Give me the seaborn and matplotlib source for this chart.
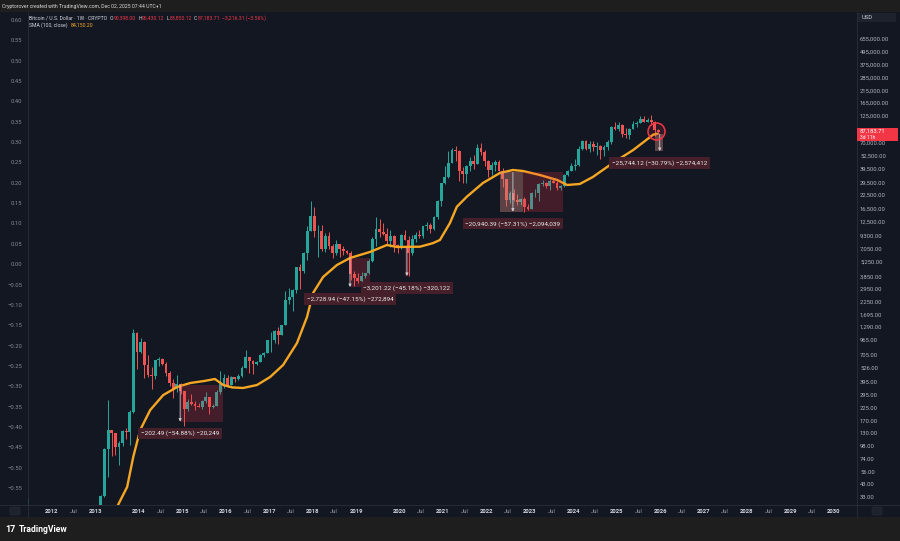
import matplotlib
matplotlib.use("Agg")
import matplotlib.pyplot as plt
from matplotlib.patches import Rectangle, FancyBboxPatch
from matplotlib.ticker import NullLocator
import numpy as np
import seaborn as sns

# ── Config ───────────────────────────────────────────────────────────────────
W, H = 900, 541
NAVY = "#131722"
STRIP = "#1e1e1e"
LINE = "#2a2e39"
UP, DOWN = "#26a69a", "#ef5350"
SMA_COLOR = "#f5a623"

# ── Data: BTC/USD monthly candles, Jun 2011 .. Dec 2025 ──────────────────────
first_month = (2011, 6)
first_open = 9.0
closes = [
    16.1, 13.4, 8.2, 5.1, 3.25, 3.0, 4.7,                                          # 2011
    5.5, 4.9, 4.9, 5.0, 5.2, 6.7, 9.3, 10.2, 12.4, 11.2, 12.6, 13.5,                # 2012
    20.4, 33.4, 93, 139, 129, 97, 106, 135, 133, 204, 1130, 755,                    # 2013
    930, 565, 457, 448, 627, 640, 585, 480, 387, 338, 378, 320,                     # 2014
    217, 254, 244, 236, 230, 263, 284, 229, 236, 314, 377, 430,                     # 2015
    369, 437, 416, 448, 531, 673, 624, 574, 609, 700, 742, 968,                     # 2016
    970, 1190, 1080, 1348, 2300, 2480, 2880, 4740, 4340, 6450, 10230, 14150,        # 2017
    10280, 10300, 6900, 9250, 7500, 6400, 7730, 7030, 6630, 6370, 4040, 3740,       # 2018
    3460, 3850, 4100, 5320, 8570, 10820, 10080, 9600, 8300, 9200, 7560, 7200,       # 2019
    9350, 8540, 6420, 8630, 9450, 9140, 11350, 11650, 10780, 13800, 19700, 28990,   # 2020
    33140, 45140, 58800, 57750, 37300, 35040, 41460, 47100, 43800, 61300, 57000, 46200,  # 2021
    38480, 43190, 45540, 37700, 31800, 19950, 23300, 20050, 19430, 20500, 17170, 16550,  # 2022
    23140, 23150, 28480, 29250, 27220, 30480, 29230, 25940, 26970, 34640, 37720, 42270,  # 2023
    42580, 61130, 71290, 60640, 67500, 62680, 64600, 58970, 63300, 70200, 96450, 93400,  # 2024
    102400, 84350, 82550, 94200, 104600, 107200, 115800, 108300, 114050, 109600, 90400, 87180,  # 2025
]
highs = [
    31.9, 17.5, 13.9, 8.9, 5.3, 3.5, 4.8,
    7.4, 6.3, 5.4, 5.2, 5.2, 6.8, 9.5, 15.4, 12.9, 12.9, 12.9, 13.9,
    20.7, 33.8, 95, 266, 140, 130, 110, 140, 145, 215, 1240, 1160,
    1020, 950, 710, 545, 630, 680, 660, 600, 495, 420, 455, 385,
    320, 270, 300, 261, 248, 268, 318, 285, 244, 330, 500, 467,
    460, 443, 440, 466, 550, 780, 680, 626, 612, 722, 756, 980,
    1150, 1210, 1300, 1350, 2780, 3000, 2950, 4750, 5000, 6470, 11400, 19800,
    17300, 11800, 11700, 9800, 10000, 7800, 8500, 7750, 7400, 6800, 6600, 4300,
    4100, 4200, 4150, 5600, 9100, 13900, 13200, 12300, 10900, 10400, 9500, 7750,
    9550, 10500, 9200, 9450, 10100, 10400, 11450, 12480, 12100, 14100, 19900, 29300,
    41950, 58350, 61800, 64850, 59550, 41300, 42400, 50500, 52900, 67000, 69000, 59100,
    47950, 45800, 48200, 47450, 40000, 31950, 24650, 25200, 22800, 21100, 21450, 18400,
    23950, 25250, 29200, 31000, 29850, 31400, 31850, 30200, 27500, 35200, 38450, 44700,
    48950, 64000, 73800, 72800, 71950, 71950, 70000, 65600, 66500, 73600, 99600, 108300,
    109600, 102800, 95000, 95800, 112000, 110600, 123200, 124500, 117900, 126200, 110600, 93000,
]
lows = [
    8.0, 12.5, 7.5, 4.5, 2.2, 2.0, 2.8,
    4.7, 4.2, 4.6, 4.8, 4.9, 5.2, 6.5, 7.0, 10.2, 9.9, 10.4, 12.6,
    13.2, 19.6, 33, 50, 79, 81, 65, 98, 115, 100, 200, 520,
    740, 430, 440, 340, 420, 555, 565, 450, 360, 275, 315, 305,
    152, 209, 237, 213, 228, 218, 252, 198, 225, 235, 300, 348,
    355, 365, 393, 412, 437, 528, 480, 470, 565, 605, 680, 740,
    750, 920, 890, 1075, 1345, 2100, 1830, 2700, 2950, 4130, 5500, 10200,
    9000, 5900, 6600, 6500, 7000, 5750, 6100, 5880, 6100, 6200, 3600, 3150,
    3350, 3400, 3700, 4060, 5300, 7450, 9100, 9400, 7700, 7300, 6500, 6430,
    6900, 8450, 3850, 6150, 8150, 8900, 8900, 10600, 9900, 10400, 13200, 17600,
    28100, 32300, 44950, 47050, 30000, 28800, 29300, 37300, 39600, 43300, 53300, 42000,
    32900, 34300, 37200, 37600, 26700, 17600, 18800, 19600, 18150, 18200, 15500, 16300,
    16500, 21400, 19550, 26950, 25800, 24800, 28900, 25150, 24900, 26600, 34100, 37600,
    38500, 41900, 59000, 59200, 56550, 58400, 53500, 49050, 52550, 58900, 66850, 90500,
    89200, 78200, 76600, 74500, 93400, 98200, 105100, 107300, 107300, 102000, 80600, 83850,
]

# SMA(100, close) (decimal year, price)
sma_year = [2013.30, 2013.52, 2013.73, 2013.87, 2014.03, 2014.26, 2014.56, 2014.88,
            2015.18, 2015.50, 2015.75, 2015.94, 2016.15, 2016.40, 2016.72, 2017.02,
            2017.32, 2017.64, 2017.87, 2018.01, 2018.24, 2018.56, 2018.86, 2019.32,
            2019.71, 2019.94, 2020.47, 2020.77, 2020.93, 2021.16, 2021.32, 2021.55,
            2021.92, 2022.31, 2022.61, 2022.84, 2023.23, 2023.63, 2023.86, 2024.15,
            2024.45, 2024.91, 2025.38, 2025.84, 2025.93]
sma_price = [18, 27.5, 40.6, 77.6, 139, 214, 296, 352,
             384, 401, 419, 368, 349, 345, 368, 437,
             567, 912, 1600, 2690, 3800, 4930, 5730, 6530,
             7590, 7270, 7316, 7900, 8460, 12200, 17370, 21580,
             29000, 36000, 38420, 37600, 34480, 30950, 27780, 28400,
             33020, 44710, 59200, 82500, 84150]

# price-range measurements: start/end date, drop size, label
drop_x0 = [2014.95, 2018.86, 2020.13, 2022.31, 2025.88]
drop_x1 = [2015.94, 2019.32, 2020.24, 2023.76, 2026.06]
drop_arrow_x = [2014.95, 2018.86, 2020.17, 2022.61, 2025.99]
drop_change = [202.49, 2728.94, 3201.22, 20940.39, 25744.12]
drop_pct = [54.88, 47.15, 45.18, 57.31, 30.79]
drop_ticks = ["20,249", "272,894", "320,122", "2,094,039", "2,574,412"]
circle_x, circle_price = 2025.90, 89300

# axis labels (95,000 sits under the last-price tag, so it is not drawn)
price_ticks = [655000, 495000, 375000, 285000, 215000, 165000, 125000, 70000,
               52500, 39500, 29500, 22500, 16500, 12500, 9300, 7050, 5250, 3850,
               2950, 2250, 1695, 1290, 965, 705, 526, 395, 295, 225, 170, 130, 98,
               74, 56, 43, 33]
left_ticks = [0.60, 0.55, 0.50, 0.45, 0.40, 0.35, 0.30, 0.25, 0.20, 0.15, 0.10, 0.05,
              0.00, -0.05, -0.10, -0.15, -0.20, -0.25, -0.30, -0.35, -0.40, -0.45,
              -0.50, -0.55]
year_ticks = list(range(2012, 2031))
jul_ticks = [2012, 2014, 2015, 2016, 2017, 2018, 2020, 2021, 2022, 2023, 2024,
             2025, 2026, 2027, 2028, 2029]

# ── Theme ────────────────────────────────────────────────────────────────────
sns.set_theme(style="dark", rc={"axes.facecolor": NAVY, "figure.facecolor": NAVY})
plt.rcParams["font.family"] = ["Roboto", "DejaVu Sans"]
plt.rcParams["axes.unicode_minus"] = True

fig = plt.figure(figsize=(W / 100, H / 100), dpi=100)
fig.patch.set_facecolor(NAVY)


def fx(px):
    return px / W


def fy(py):
    return 1 - py / H


rect = [fx(28), fy(505), (857 - 28) / W, (505 - 12) / H]
ax = fig.add_axes(rect)
ax.set_facecolor(NAVY)
ax.set_yscale("log")
ax.set_xlim(2011.4475, 2030.531)
ax.set_ylim(10 ** 1.439, 10 ** 6.068)
for s in ax.spines.values():
    s.set_visible(False)
ax.grid(False)

# ── Candles ──────────────────────────────────────────────────────────────────
n = len(closes)
opens = [first_open] + closes[:-1]
xs = np.array([first_month[0] + (first_month[1] - 1 + i + 0.5) / 12 for i in range(n)])
o, h, l, c = map(np.array, (opens, highs, lows, closes))
colors = np.where(c >= o, UP, DOWN)
ax.vlines(xs, l, h, colors=colors, lw=0.7, zorder=2)
ax.bar(xs, np.abs(c - o), bottom=np.minimum(o, c), width=0.065, color=colors,
       linewidth=0, zorder=3)

# ── SMA line ─────────────────────────────────────────────────────────────────
sns.lineplot(x=sma_year, y=sma_price, ax=ax, color=SMA_COLOR, lw=1.7, sort=False,
             estimator=None, zorder=4)

# ── Price range measurements ─────────────────────────────────────────────────
for i in range(len(drop_x0)):
    start = drop_change[i] / (drop_pct[i] / 100)
    end = start - drop_change[i]
    ax.add_patch(Rectangle((drop_x0[i], end), drop_x1[i] - drop_x0[i], start - end,
                           facecolor="#f23645", alpha=0.22, lw=0, zorder=5))
    ax.annotate("", xy=(drop_arrow_x[i], end), xytext=(drop_arrow_x[i], start),
                arrowprops=dict(arrowstyle="-|>", color="#c8cbd2", lw=0.6,
                                mutation_scale=4, shrinkA=0, shrinkB=0), zorder=6)
    label = f"\u2212{drop_change[i]:,.2f} (\u2212{drop_pct[i]:.2f}%) \u2212{drop_ticks[i]}"
    ax.annotate(label, xy=(drop_arrow_x[i], end), xytext=(0, -8.6),
                textcoords="offset points", ha="center", va="center", fontsize=4.6,
                color="#e8e8ea", zorder=7,
                bbox=dict(boxstyle="square,pad=0.45", fc="#45202b", ec="none"))

# lighter date-range overlays
ax.add_patch(Rectangle((2022.31, 15599), 0.53, 36539 - 15599, facecolor="#b8c8a8",
                       alpha=0.22, lw=0, zorder=5))
ax.add_patch(Rectangle((2025.88, 57868), 0.18, 83612 - 57868, facecolor="#b8c8a8",
                       alpha=0.22, lw=0, zorder=5))
ax.scatter([circle_x], [circle_price], s=150, facecolors=(0.95, 0.21, 0.27, 0.12),
           edgecolors="#f23645", linewidths=1.1, zorder=8)

# ── Axes: price (right), x (dates) ───────────────────────────────────────────
ax.yaxis.tick_right()
ax.yaxis.set_minor_locator(NullLocator())
ax.set_yticks(price_ticks, [f"{v:,.2f}" for v in price_ticks])
ax.tick_params(axis="y", length=0, pad=2.2, labelsize=4.2, labelcolor="#b2b5be")

xt = year_ticks + [y + 0.496 for y in jul_ticks]
xl = [str(y) for y in year_ticks] + ["Jul"] * len(jul_ticks)
ax.set_xticks(xt, xl)
ax.tick_params(axis="x", length=0, pad=2.6, labelsize=4.2)
for t in ax.get_xticklabels():
    if t.get_text() == "Jul":
        t.set_color("#9598a1")
    else:
        t.set_color("#d1d4dc")
        t.set_fontweight("bold")

# left scale
ax_l = fig.add_axes(rect, frameon=False)
ax_l.patch.set_visible(False)
ax_l.set_ylim(-0.5918, 0.6197)
ax_l.set_xticks([])
ax_l.set_yticks(left_ticks, [f"{v:.2f}" if v >= 0 else f"\u2212{abs(v):.2f}" for v in left_ticks])
ax_l.tick_params(axis="y", length=0, pad=4.3, labelsize=4.2, labelcolor="#868993")
ax_l.grid(False)

# ── Frame: strips, separators, header, footer ────────────────────────────────
fig.patches.append(Rectangle((0, fy(12)), 1, 12 / H, transform=fig.transFigure,
                             facecolor=STRIP, lw=0, zorder=0))
fig.patches.append(Rectangle((0, 0), 1, fy(517), transform=fig.transFigure,
                             facecolor=STRIP, lw=0, zorder=0))
for x in (28, 857):
    fig.lines.append(plt.Line2D([fx(x), fx(x)], [fy(12), fy(517)], color=LINE, lw=0.6,
                                transform=fig.transFigure))
fig.lines.append(plt.Line2D([0, 1], [fy(505), fy(505)], color=LINE, lw=0.6,
                            transform=fig.transFigure))

fig.text(fx(2), fy(6.5), "Cryptorover created with TradingView.com, Dec 02, 2025 07:44 UTC+1",
         fontsize=3.7, color="#d9d9d9", va="center")

# legend rows, laid out piece by piece
renderer = fig.canvas.get_renderer()


def text_row(pieces, x, y, size=3.7):
    for s, col, gap in pieces:
        t = fig.text(fx(x), fy(y), s, fontsize=size, color=col, va="center")
        x = t.get_window_extent(renderer).x1 + gap


text_row([("Bitcoin / U.S. Dollar \u00b7 1W \u00b7 CRYPTO", "#d1d4dc", 3),
          ("O", "#d1d4dc", 0.3), ("90,398.00", "#f23645", 2),
          ("H", "#d1d4dc", 0.3), ("90,430.12", "#f23645", 2),
          ("L", "#d1d4dc", 0.3), ("83,850.12", "#f23645", 2),
          ("C", "#d1d4dc", 0.3), ("87,183.71", "#f23645", 2),
          ("\u22123,216.31 (\u22123.56%)", "#f23645", 0)], 29, 18.5)
text_row([("SMA (100, close)", "#d1d4dc", 3), ("84,150.20", SMA_COLOR, 0)], 29, 25.5)

# USD badge and last price tag
fig.patches.append(Rectangle((fx(858), fy(22)), 38 / W, 9 / H, transform=fig.transFigure,
                             facecolor="#1e222d", lw=0, zorder=5))
fig.text(fx(862), fy(17.5), "USD", fontsize=4.2, color="#d1d4dc", va="center", zorder=6)
fig.patches.append(Rectangle((fx(857), fy(141)), 41 / W, 13 / H, transform=fig.transFigure,
                             facecolor="#f23645", lw=0, zorder=5))
fig.text(fx(860), fy(131.5), "87,183.71", fontsize=4.2, color="white", va="center", zorder=6)
fig.text(fx(860), fy(137.5), "3d 11h", fontsize=3.6, color="white", va="center", zorder=6)

# small corner buttons on the time axis
for bx in (10, 872):
    fig.patches.append(FancyBboxPatch((fx(bx), fy(515)), 10 / W, 8 / H,
                                      boxstyle="round,pad=0,rounding_size=0.003",
                                      transform=fig.transFigure, facecolor="#1e222d",
                                      edgecolor=LINE, lw=0.4, zorder=5))

# footer logo
fig.text(fx(5), fy(529), "17", fontsize=6.5, color="white", va="center", fontweight="bold")
fig.text(fx(19), fy(529), "TradingView", fontsize=6.2, color="white", va="center",
         fontweight="bold")

fig.savefig("out.png", dpi=100, facecolor=NAVY)
